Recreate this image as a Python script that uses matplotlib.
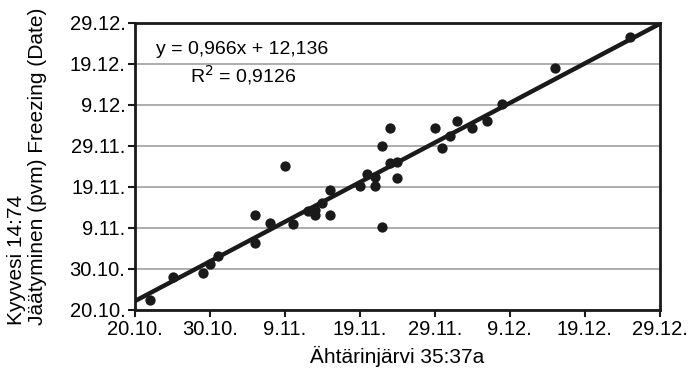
import numpy as np
import matplotlib.pyplot as plt

# day of year (non-leap): 20.10. = 293 ... 29.12. = 363
x_days = [295, 298, 302, 303, 304, 309, 309, 311, 313, 314, 316, 317, 317, 318,
          319, 319, 323, 324, 325, 325, 326, 326, 327, 327, 328, 328,
          333, 334, 335, 336, 338, 340, 342, 349, 359]
y_days = [295.3, 301.1, 302.1, 304.2, 306.2, 316.2, 309.3, 314.1, 328.1, 314.0,
          317.2, 317.4, 316.2, 319.0, 322.3, 316.2, 323.3, 326.2, 323.3, 325.4,
          333.0, 313.2, 337.3, 328.8, 329.0, 325.1,
          337.3, 332.4, 335.3, 339.2, 337.3, 339.2, 343.2, 352.1, 359.5]
tick_pos = [293, 303, 313, 323, 333, 343, 353, 363]
tick_lab = ['20.10.', '30.10.', '9.11.', '19.11.', '29.11.', '9.12.', '19.12.', '29.12.']
slope = 0.966
icept = 12.136

plt.rcParams['font.family'] = ['Liberation Sans Narrow', 'Liberation Sans', 'DejaVu Sans']

fig = plt.figure(figsize=(6.93, 3.83), dpi=100)
ax = fig.add_axes([0.195, 0.191, 0.757, 0.749])

ax.set_xlim(293, 363)
ax.set_ylim(293, 363)
ax.set_xticks(tick_pos)
ax.set_xticklabels(tick_lab)
ax.set_yticks(tick_pos)
ax.set_yticklabels(tick_lab)
ax.yaxis.grid(True, color='#a0a0a0', linewidth=1.2)
ax.set_axisbelow(True)

xl = np.array([293, 363])
ax.plot(xl, slope * xl + icept, color='#1a1a1a', linewidth=3.2, zorder=3, solid_capstyle='butt')
ax.scatter(x_days, y_days, s=55, color='#1a1a1a', zorder=4, linewidths=0)

for s in ax.spines.values():
    s.set_linewidth(2)
    s.set_color('#1a1a1a')
ax.tick_params(axis='both', labelsize=14.5, length=5, width=1.5, color='#1a1a1a', pad=2)

ax.text(0.04, 0.906, 'y = 0,966x + 12,136', transform=ax.transAxes, fontsize=14, va='center')
ax.text(0.105, 0.82, 'R$^2$ = 0,9126', transform=ax.transAxes, fontsize=14, va='center')

ax.set_xlabel('Ähtärinjärvi 35:37a', fontsize=15, labelpad=5)
ax.set_ylabel('Kyyvesi 14:74\nJäätyminen (pvm) Freezing (Date)', fontsize=15,
              multialignment='left', labelpad=16, linespacing=1.15)

fig.savefig('out.png', dpi=100)
